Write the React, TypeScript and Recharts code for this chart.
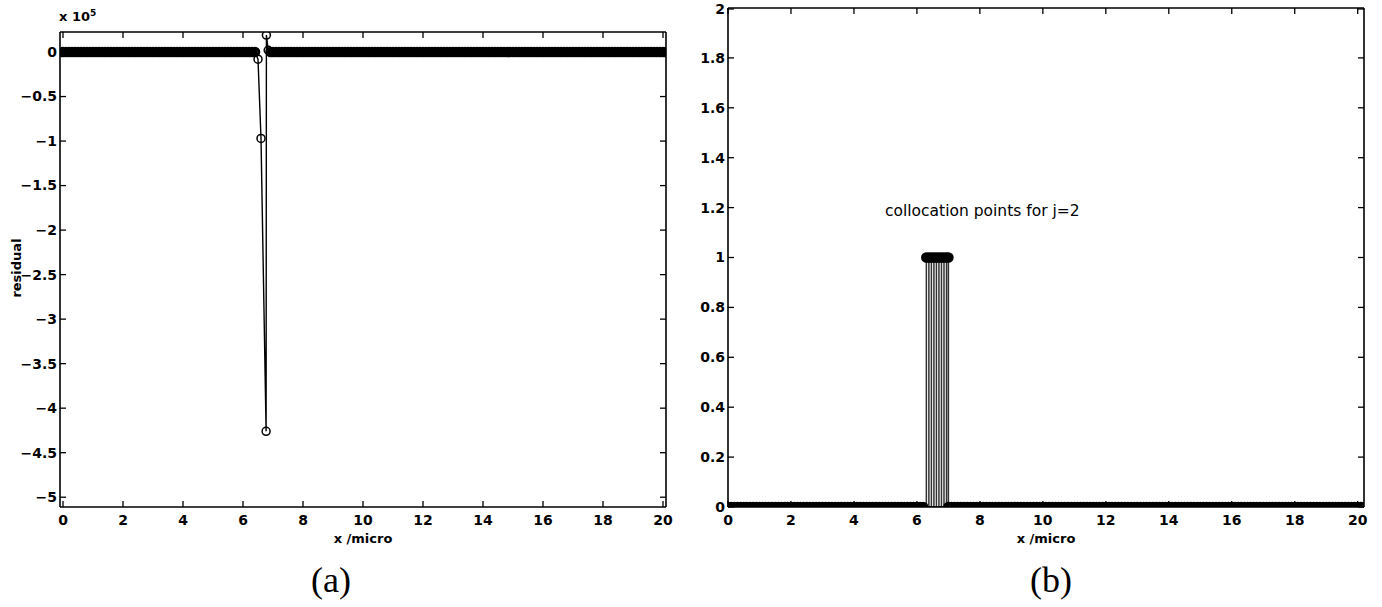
import React from "react";
import { ComposedChart, Line, XAxis, YAxis } from "recharts";

// collocation grid (x in micro), shared by both panels
const leftGrid = [
  0, 0.1, 0.2, 0.3, 0.4, 0.5, 0.6, 0.7, 0.8, 0.9,
  1, 1.1, 1.2, 1.3, 1.4, 1.5, 1.6, 1.7, 1.8, 1.9,
  2, 2.1, 2.2, 2.3, 2.4, 2.5, 2.6, 2.7, 2.8, 2.9,
  3, 3.1, 3.2, 3.3, 3.4, 3.5, 3.6, 3.7, 3.8, 3.9,
  4, 4.1, 4.2, 4.3, 4.4, 4.5, 4.6, 4.7, 4.8, 4.9,
  5, 5.1, 5.2, 5.3, 5.4, 5.5, 5.6, 5.7, 5.8, 5.9,
  6, 6.1, 6.2,
];
const rightGrid = [
  7, 7.1, 7.2, 7.3, 7.4, 7.5, 7.6, 7.7, 7.8, 7.9,
  8, 8.1, 8.2, 8.3, 8.4, 8.5, 8.6, 8.7, 8.8, 8.9,
  9, 9.1, 9.2, 9.3, 9.4, 9.5, 9.6, 9.7, 9.8, 9.9,
  10, 10.1, 10.2, 10.3, 10.4, 10.5, 10.6, 10.7, 10.8, 10.9,
  11, 11.1, 11.2, 11.3, 11.4, 11.5, 11.6, 11.7, 11.8, 11.9,
  12, 12.1, 12.2, 12.3, 12.4, 12.5, 12.6, 12.7, 12.8, 12.9,
  13, 13.1, 13.2, 13.3, 13.4, 13.5, 13.6, 13.7, 13.8, 13.9,
  14, 14.1, 14.2, 14.3, 14.4, 14.5, 14.6, 14.7, 14.8, 14.9,
  15, 15.1, 15.2, 15.3, 15.4, 15.5, 15.6, 15.7, 15.8, 15.9,
  16, 16.1, 16.2, 16.3, 16.4, 16.5, 16.6, 16.7, 16.8, 16.9,
  17, 17.1, 17.2, 17.3, 17.4, 17.5, 17.6, 17.7, 17.8, 17.9,
  18, 18.1, 18.2, 18.3, 18.4, 18.5, 18.6, 18.7, 18.8, 18.9,
  19, 19.1, 19.2, 19.3, 19.4, 19.5, 19.6, 19.7, 19.8, 19.9,
  20, 20.1,
];
const gridValue = 0;

// panel (a): residual (x 10^5) around the interface
const spikeX = [6.3, 6.4, 6.5, 6.6, 6.77, 6.78, 6.84, 6.92];
const spikeResidual = [0, 0, -0.08, -0.97, -4.26, 0.19, 0.02, 0];

// panel (b): collocation points for j=2
const collocX = [6.3, 6.38, 6.46, 6.54, 6.62, 6.7, 6.78, 6.86, 6.94, 7.0];
const collocValue = 1;
const extraRightB = [20.2];

const xTicks = [0, 2, 4, 6, 8, 10, 12, 14, 16, 18, 20];
const yTicksA = [0, -0.5, -1, -1.5, -2, -2.5, -3, -3.5, -4, -4.5, -5];
const yTicksB = [0, 0.2, 0.4, 0.6, 0.8, 1, 1.2, 1.4, 1.6, 1.8, 2];

const residualData = [
  ...leftGrid.map((x) => ({ x, y: gridValue, band: true })),
  ...spikeX.map((x, i) => ({ x, y: spikeResidual[i], band: spikeResidual[i] === 0 })),
  ...rightGrid.map((x) => ({ x, y: gridValue, band: true })),
];
const bandB = [...leftGrid, ...rightGrid, ...extraRightB].map((x) => ({ x, y: gridValue, band: true }));
const combB = collocX.flatMap((x, i) =>
  i % 2 === 0
    ? [{ x, y: 0 }, { x, y: collocValue }]
    : [{ x, y: collocValue }, { x, y: 0 }]
);
const topB = collocX.map((x) => ({ x, y: collocValue, band: true }));

const FONT = "'DejaVu Sans', sans-serif";
const fmt = (v: number) => (v < 0 ? "\u2212" + Math.abs(v) : String(v));

// open circle marker; dense grid points get a heavier ring so they merge into a band
const Marker = (p: any) => {
  if (p.cx == null || p.cy == null) return <g key={p.key ?? p.index} />;
  const heavy = p.payload?.band;
  return (
    <circle key={p.key ?? p.index} cx={p.cx} cy={p.cy} r={heavy ? 3.8 : 4}
      fill="none" stroke="#000" strokeWidth={heavy ? 3 : 1.5} />
  );
};

const TICK_TEXT = { fontFamily: FONT, fontSize: 14, fontWeight: 700, fill: "#000" };

const BottomTick = ({ x, y, payload }: any) => (
  <g>
    <line x1={x} y1={y} x2={x} y2={y - 6} stroke="#000" strokeWidth={1.3} />
    <text x={x} y={y + 18} textAnchor="middle" {...TICK_TEXT}>
      {fmt(payload.value)}
    </text>
  </g>
);
const TopTick = ({ x, y }: any) => (
  <line x1={x} y1={y} x2={x} y2={y + 6} stroke="#000" strokeWidth={1.3} />
);
const LeftTick = ({ x, y, payload }: any) => (
  <g>
    <line x1={x} y1={y} x2={x + 6} y2={y} stroke="#000" strokeWidth={1.3} />
    <text x={x - 3} y={y} dy="0.35em" textAnchor="end" {...TICK_TEXT}>
      {fmt(payload.value)}
    </text>
  </g>
);
const RightTick = ({ x, y }: any) => (
  <line x1={x} y1={y} x2={x - 6} y2={y} stroke="#000" strokeWidth={1.3} />
);

const AXIS = { stroke: "#000", strokeWidth: 1.6 };

function Box({ xDomain, yDomain, yTicks }: { xDomain: number[]; yDomain: number[]; yTicks: number[] }) {
  return [
    <XAxis key="xb" xAxisId="b" dataKey="x" type="number" domain={xDomain} allowDataOverflow
      ticks={xTicks} tick={BottomTick} tickSize={0} tickMargin={0} tickLine={false} axisLine={AXIS} height={40}
      label={{ value: "x /micro", position: "insideBottom", offset: 4, fontFamily: FONT, fontSize: 13, fontWeight: 700, fill: "#000" }} />,
    <XAxis key="xt" xAxisId="t" orientation="top" dataKey="x" type="number" domain={xDomain} allowDataOverflow
      ticks={xTicks} tick={TopTick} tickSize={0} tickMargin={0} tickLine={false} axisLine={AXIS} height={1} />,
    <YAxis key="yl" yAxisId="l" type="number" domain={yDomain} allowDataOverflow
      ticks={yTicks} tick={LeftTick} tickSize={0} tickMargin={0} tickLine={false} axisLine={AXIS} width={60} />,
    <YAxis key="yr" yAxisId="r" orientation="right" type="number" domain={yDomain} allowDataOverflow
      ticks={yTicks} tick={RightTick} tickSize={0} tickMargin={0} tickLine={false} axisLine={AXIS} width={1} />,
  ];
}

export default function App() {
  return (
    <div style={{ position: "absolute", left: 0, top: 0, width: 1382, height: 607, background: "#fff", fontFamily: FONT }}>
      {/* panel (a) */}
      <div style={{ position: "absolute", left: 0, top: 0 }}>
        <ComposedChart width={680} height={607} margin={{ top: 31, right: 13, bottom: 60, left: 0 }}>
          {Box({ xDomain: [-0.1, 20.1], yDomain: [-5.11, 0.225], yTicks: yTicksA })}
          <Line data={residualData} xAxisId="b" yAxisId="l" dataKey="y" type="linear"
            stroke="#000" strokeWidth={1.4} dot={Marker} activeDot={false} isAnimationActive={false} />
        </ComposedChart>
      </div>
      <div style={{ position: "absolute", left: 59, top: 8, fontSize: 13, fontWeight: 700, color: "#000" }}>
        x 10<sup style={{ fontSize: 9 }}>5</sup>
      </div>
      <div style={{ position: "absolute", left: 16, top: 268, fontSize: 13, fontWeight: 700, color: "#000",
        transform: "translate(-50%, -50%) rotate(-90deg)", whiteSpace: "nowrap" }}>
        residual
      </div>
      <div style={{ position: "absolute", left: 331, top: 580, transform: "translate(-50%, -50%)",
        fontFamily: "'Liberation Serif', serif", fontSize: 36, color: "#000" }}>(a)</div>

      {/* panel (b) */}
      <div style={{ position: "absolute", left: 668, top: 0 }}>
        <ComposedChart width={710} height={607} margin={{ top: 7, right: 13, bottom: 60, left: 0 }}>
          {Box({ xDomain: [0, 20.2], yDomain: [0, 2], yTicks: yTicksB })}
          <Line data={combB} xAxisId="b" yAxisId="l" dataKey="y" type="linear"
            stroke="#333" strokeWidth={1.5} dot={false} activeDot={false} isAnimationActive={false} />
          <Line data={bandB} xAxisId="b" yAxisId="l" dataKey="y" type="linear"
            stroke="#000" strokeWidth={1.4} dot={Marker} activeDot={false} isAnimationActive={false} />
          <Line data={topB} xAxisId="b" yAxisId="l" dataKey="y" type="linear"
            stroke="#000" strokeWidth={1.4} dot={Marker} activeDot={false} isAnimationActive={false} />
        </ComposedChart>
      </div>
      <div style={{ position: "absolute", left: 885, top: 211, transform: "translateY(-50%)",
        fontSize: 15.5, color: "#000", whiteSpace: "nowrap" }}>
        collocation points for j=2
      </div>
      <div style={{ position: "absolute", left: 1051, top: 580, transform: "translate(-50%, -50%)",
        fontFamily: "'Liberation Serif', serif", fontSize: 36, color: "#000" }}>(b)</div>
    </div>
  );
}
